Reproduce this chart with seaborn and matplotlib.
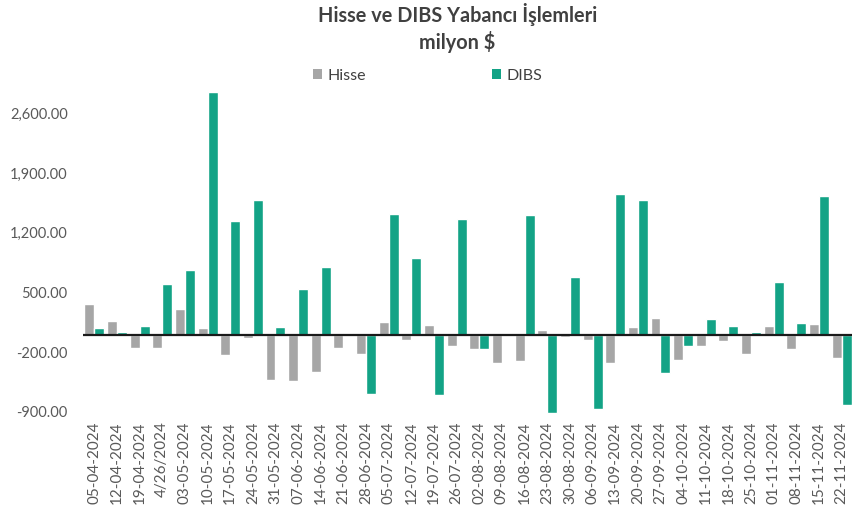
import matplotlib
matplotlib.use("Agg")
import matplotlib.pyplot as plt
import seaborn as sns
import pandas as pd
from matplotlib.ticker import FuncFormatter, FixedLocator
from matplotlib.patches import Patch

dates = ["05-04-2024", "12-04-2024", "19-04-2024", "4/26/2024", "03-05-2024", "10-05-2024",
         "17-05-2024", "24-05-2024", "31-05-2024", "07-06-2024", "14-06-2024", "21-06-2024",
         "28-06-2024", "05-07-2024", "12-07-2024", "19-07-2024", "26-07-2024", "02-08-2024",
         "09-08-2024", "16-08-2024", "23-08-2024", "30-08-2024", "06-09-2024", "13-09-2024",
         "20-09-2024", "27-09-2024", "04-10-2024", "11-10-2024", "18-10-2024", "25-10-2024",
         "01-11-2024", "08-11-2024", "15-11-2024", "22-11-2024"]
hisse = [360, 164, -149, -156, 309, 78, -231, -31, -532, -540, -438, -156,
         -227, 149, -63, 117, -125, -164, -325, -305, 59, -23, -55, -325,
         90, 203, -293, -125, -74, -219, 109, -164, 133, -266]
dibs = [78, 39, 109, 602, 766, 2850, 1337, 1580, 90, 540, 798, 27,
        -688, 1423, 899, -708, 1360, -164, 20, 1411, -915, 680, -864, 1650,
        1587, -450, -125, 192, 109, 39, 622, 141, 1634, -821]
series_names = ["Hisse", "DIBS"]
yticks = [-900, -200, 500, 1200, 1900, 2600]

df = pd.DataFrame({
    "Tarih": dates * 2,
    "Seri": [series_names[0]] * len(dates) + [series_names[1]] * len(dates),
    "Deger": hisse + dibs,
})

sns.set_theme(style="white")
plt.rcParams["font.family"] = ["Lato", "DejaVu Sans"]

fig = plt.figure(figsize=(8.53, 5.17), dpi=100)
ax = fig.add_axes([0.0973, 0.1954, 0.9027, 0.6346])

gray = "#a6a6a6"
green = "#13a386"
sns.barplot(data=df, x="Tarih", y="Deger", hue="Seri", order=dates,
            hue_order=series_names, palette=[gray, green], width=0.88,
            saturation=1, ax=ax, legend=False)

ax.set_xlim(-0.5, len(dates) - 0.5)
ax.set_ylim(-950, 2900)
ax.yaxis.set_major_locator(FixedLocator(yticks))
ax.yaxis.set_major_formatter(FuncFormatter(lambda v, p: f"{v:,.2f}"))
ax.axhline(0, color="#1a1a1a", lw=1.6, zorder=5)
for s in ax.spines.values():
    s.set_visible(False)
ax.set_xlabel("")
ax.set_ylabel("")
ax.tick_params(axis="both", length=0, colors="#595959", labelsize=11)
ax.tick_params(axis="y", labelsize=10.5, pad=11)
ax.tick_params(axis="x", pad=4)
plt.setp(ax.get_xticklabels(), rotation=90)

fig.text(0.536, 0.971, "Hisse ve DIBS Yabancı İşlemleri", ha="center", va="center",
         fontsize=14.3, fontweight="bold", color="#404040")
fig.text(0.536, 0.919, "milyon $", ha="center", va="center",
         fontsize=14.3, fontweight="bold", color="#404040")

handles = [Patch(facecolor=gray, edgecolor="none"), Patch(facecolor=green, edgecolor="none")]
leg = fig.legend(handles, series_names, loc="center", bbox_to_anchor=(0.501, 0.853),
                 ncol=2, frameon=False, fontsize=11.5, handlelength=0.6, handleheight=0.6,
                 handletextpad=0.3, columnspacing=7.9)
for t in leg.get_texts():
    t.set_color("#404040")

fig.savefig("out.png", dpi=100)
